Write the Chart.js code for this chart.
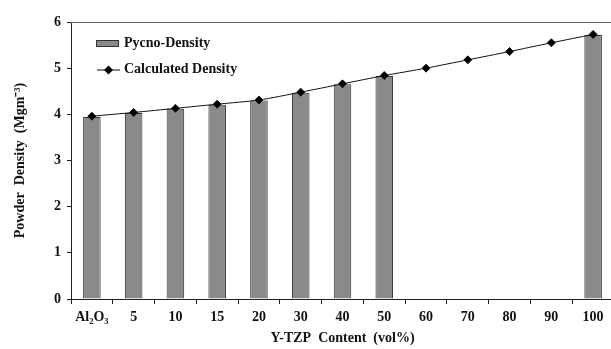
<!DOCTYPE html>
<html>
<head>
<meta charset="utf-8">
<script src="https://cdn.jsdelivr.net/npm/chart.js@4"></script>
<style>
  html, body { margin: 0; padding: 0; background: #fff; overflow: hidden; }
  #wrap { width: 620px; height: 349px; }
</style>
</head>
<body>
<div id="wrap"><canvas id="densityChart"></canvas></div>
<script>
// Y-TZP content categories (vol%)
const categories = ['Al₂O₃', '5', '10', '15', '20', '30', '40', '50', '60', '70', '80', '90', '100'];

// measured density (bars), no samples for 60-90
const pycnoDensity = [3.94, 4.03, 4.12, 4.21, 4.30, 4.47, 4.65, 4.83, null, null, null, null, 5.72];

// calculated density (line)
const calcDensity = [3.96, 4.04, 4.13, 4.22, 4.31, 4.48, 4.66, 4.84, 5.00, 5.18, 5.36, 5.55, 5.73];

const yTicks = [0, 1, 2, 3, 4, 5, 6];

const serif = '"Liberation Serif", "Times New Roman", serif';

/* top border of the plot area + legend drawn inside the plot */
const frameAndLegend = {
    id: 'frameAndLegend',
    afterDraw(chart) {
        const { ctx, chartArea } = chart;
        ctx.save();
        ctx.strokeStyle = '#666';
        ctx.lineWidth = 1;
        ctx.beginPath();
        ctx.moveTo(chartArea.left, chartArea.top + 0.5);
        ctx.lineTo(chartArea.right, chartArea.top + 0.5);
        ctx.stroke();

        // bar entry
        ctx.fillStyle = '#8a8a8a';
        ctx.strokeStyle = '#333';
        ctx.fillRect(96, 40, 23, 7);
        ctx.strokeRect(96.5, 40.5, 22, 6);

        // line entry
        ctx.strokeStyle = '#111';
        ctx.beginPath();
        ctx.moveTo(97, 70);
        ctx.lineTo(120, 70);
        ctx.stroke();
        ctx.fillStyle = '#000';
        ctx.beginPath();
        ctx.moveTo(108.5, 65.5);
        ctx.lineTo(113, 70);
        ctx.lineTo(108.5, 74.5);
        ctx.lineTo(104, 70);
        ctx.closePath();
        ctx.fill();

        ctx.fillStyle = '#111';
        ctx.font = 'bold 14px ' + serif;
        ctx.textBaseline = 'middle';
        ctx.fillText('Pycno-Density', 124, 43);
        ctx.fillText('Calculated Density', 124, 69);
        ctx.restore();
    }
};

const data = {
    labels: categories,
    datasets: [{
        type: 'line',
        label: 'Calculated Density',
        data: calcDensity,
        borderColor: '#111',
        borderWidth: 1,
        backgroundColor: '#000',
        pointStyle: 'rectRot',
        pointRadius: 4,
        tension: 0.25,
        order: 0
    }, {
        type: 'bar',
        label: 'Pycno-Density',
        data: pycnoDensity,
        backgroundColor: '#8a8a8a',
        borderColor: '#333',
        borderWidth: 1,
        barPercentage: 0.42,
        categoryPercentage: 1,
        order: 1
    }]
};

const config = {
    data,
    options: {
        responsive: true,
        maintainAspectRatio: false,
        animation: false,
        layout: { padding: { top: 22, right: 6, left: 0, bottom: 0 } },
        plugins: {
            legend: { display: false },
            tooltip: { enabled: false }
        },
        scales: {
            x: {
                offset: true,
                grid: { offset: true, drawOnChartArea: false, drawTicks: true, tickLength: 5, color: '#222' },
                border: { display: true, color: '#222', width: 1 },
                ticks: {
                    color: '#111',
                    padding: 5,
                    maxRotation: 0,
                    autoSkip: false,
                    font: { family: serif, size: 14, weight: 'bold' }
                },
                title: {
                    display: true,
                    text: 'Y-TZP  Content  (vol%)',
                    color: '#111',
                    padding: { top: 0, bottom: 2 },
                    font: { family: serif, size: 14, weight: 'bold' }
                },
                afterFit(scale) { scale.height = 50; }
            },
            y: {
                min: 0,
                max: 6,
                grid: { drawOnChartArea: false, drawTicks: true, tickLength: 4, color: '#222' },
                border: { display: true, color: '#222', width: 1 },
                ticks: {
                    stepSize: 1,
                    color: '#111',
                    padding: 6,
                    font: { family: serif, size: 14, weight: 'bold' },
                    callback: (v) => yTicks.includes(v) ? String(v) : ''
                },
                title: {
                    display: true,
                    text: 'Powder  Density  (Mgm⁻³)',
                    color: '#111',
                    padding: { top: 12, bottom: 0 },
                    font: { family: serif, size: 14, weight: 'bold' }
                },
                afterFit(scale) { scale.width = 71; }
            }
        }
    },
    plugins: [frameAndLegend]
};

/* Generate the chart */
var densityChart = new Chart(document.getElementById('densityChart'), config);
</script>
</body>
</html>
